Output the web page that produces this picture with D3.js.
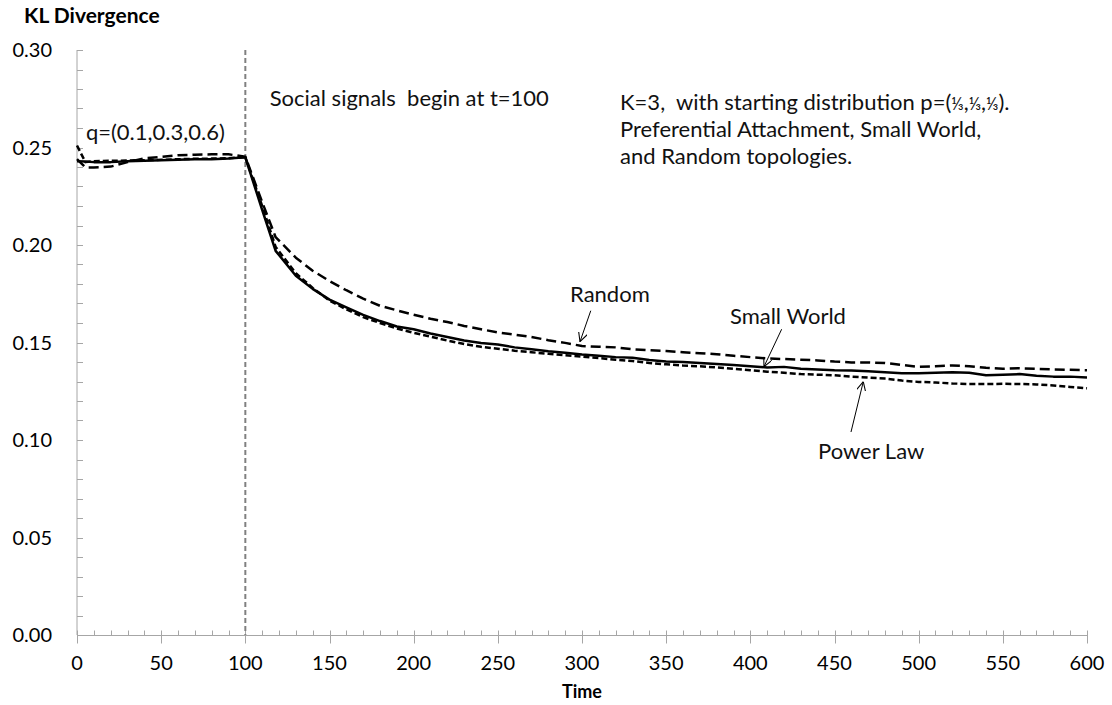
<!DOCTYPE html>
<html>
<head>
<meta charset="utf-8">
<script src="https://cdn.jsdelivr.net/npm/d3@7"></script>
<style>
  body { margin: 0; background: #fff; }
  svg { font-family: Lato, "Open Sans", sans-serif; }
  svg text { white-space: pre; }
</style>
</head>
<body>
<svg id="chart" width="1112" height="705"></svg>
<script>
// Time steps shared by all series.
const time = [0, 5, 10, 20, 30, 40, 50, 60, 70, 80, 90, 100, 110, 118,
  130, 140, 150, 160, 170, 180, 190, 200,
  210, 220, 230, 240, 250, 260, 270, 280, 290, 300,
  310, 320, 330, 340, 350, 360, 370, 380, 390, 400,
  410, 420, 430, 440, 450, 460, 470, 480, 490, 500,
  510, 520, 530, 540, 550, 560, 570, 580, 590, 600];

const smallWorld = [0.243, 0.2428, 0.2425, 0.2425, 0.243, 0.2432, 0.2435, 0.2437, 0.244, 0.244, 0.2443, 0.245, 0.218, 0.197,
  0.1842, 0.1775, 0.172, 0.168, 0.1642, 0.161, 0.1582, 0.1568,
  0.1546, 0.1528, 0.151, 0.1498, 0.149, 0.1475, 0.1465, 0.1455, 0.1448, 0.1438,
  0.1432, 0.1425, 0.1422, 0.141, 0.1402, 0.140, 0.1395, 0.139, 0.1385, 0.1378,
  0.1372, 0.1375, 0.1365, 0.1362, 0.1358, 0.1356, 0.1352, 0.1348, 0.1342, 0.1342,
  0.1345, 0.1348, 0.1345, 0.1332, 0.1335, 0.1338, 0.133, 0.1325, 0.1325, 0.1321];

const random = [0.244, 0.2398, 0.2398, 0.2402, 0.2425, 0.2445, 0.2452, 0.246, 0.2463, 0.2465, 0.2465, 0.2453, 0.222, 0.204,
  0.1935, 0.1868, 0.1815, 0.1768, 0.1725, 0.1688, 0.1665, 0.1642,
  0.1622, 0.1605, 0.1585, 0.1568, 0.1552, 0.154, 0.1528, 0.1512, 0.1498, 0.1482,
  0.1478, 0.1475, 0.1465, 0.146, 0.1456, 0.145, 0.1445, 0.144, 0.1432, 0.1425,
  0.1418, 0.1415, 0.1412, 0.1408, 0.1402, 0.1398, 0.1398, 0.1395, 0.1385, 0.1375,
  0.1378, 0.1382, 0.1378, 0.137, 0.1365, 0.1368, 0.1365, 0.1362, 0.136, 0.1358];

const powerLaw = [0.251, 0.2425, 0.243, 0.2432, 0.2433, 0.2435, 0.2437, 0.244, 0.2442, 0.2443, 0.2445, 0.245, 0.22, 0.199,
  0.1855, 0.178, 0.1715, 0.167, 0.163, 0.16, 0.1572, 0.155,
  0.153, 0.151, 0.1492, 0.1478, 0.1468, 0.1458, 0.145, 0.1442, 0.1435, 0.1428,
  0.142, 0.1412, 0.1405, 0.1395, 0.1388, 0.1382, 0.1378, 0.1372, 0.1365, 0.1358,
  0.135, 0.1345, 0.1338, 0.1335, 0.1332, 0.1325, 0.132, 0.1315, 0.1305, 0.1298,
  0.1295, 0.129, 0.1287, 0.1287, 0.1288, 0.1287, 0.1285, 0.128, 0.1272, 0.1265];

const xTicks = [0, 50, 100, 150, 200, 250, 300, 350, 400, 450, 500, 550, 600];
const yTicks = [0, 0.05, 0.10, 0.15, 0.20, 0.25, 0.30];
const signalStart = 100;

// Label text with anchor in data units, arrows as [t, v] tail -> tip.
const labels = [
  { text: 'Random', t: 292.9, v: 0.1708 },
  { text: 'Small World', t: 387.9, v: 0.1595 },
  { text: 'Power Law', t: 440.2, v: 0.0903 },
  { text: 'Social signals  begin at t=100', t: 114.5, v: 0.2712 },
  { text: 'q=(0.1,0.3,0.6)', t: 5.3, v: 0.2538 },
  { text: 'K=3,  with starting distribution p=(⅓,⅓,⅓).', t: 322.6, v: 0.2692 },
  { text: 'Preferential Attachment, Small World,', t: 322.6, v: 0.2554 },
  { text: 'and Random topologies.', t: 322.6, v: 0.2415 }
];
const arrows = [
  [[305.2, 0.1663], [298.8, 0.1504]],
  [[418.6, 0.1568], [408.1, 0.1376]],
  [[459.8, 0.1041], [467.1, 0.1299]]
];

const svg = d3.select('#chart');
const margin = { left: 77, right: 25, top: 50, bottom: 70 };
const width = 1112, height = 705;

const x = d3.scaleLinear().domain([0, 600]).range([margin.left, width - margin.right]);
const y = d3.scaleLinear().domain([0, 0.30]).range([height - margin.bottom, margin.top]);

const axisColor = '#a6a6a6';

// Axes
const yAxis = svg.append('g').attr('transform', `translate(${x(0)},0)`);
yAxis.append('line')
  .attr('y1', y(0)).attr('y2', y(0.30))
  .attr('stroke', axisColor);
yAxis.selectAll('line.minor')
  .data(d3.range(0, 31).map(d => d / 100))
  .enter()
    .append('line')
    .attr('class', 'minor')
    .attr('x1', 0).attr('x2', 6)
    .attr('y1', d => Math.round(y(d)) + 0.5).attr('y2', d => Math.round(y(d)) + 0.5)
    .attr('stroke', axisColor);
yAxis.selectAll('text')
  .data(yTicks)
  .enter()
    .append('text')
    .attr('x', -25)
    .attr('y', d => y(d))
    .attr('dy', '0.35em')
    .attr('text-anchor', 'end')
    .attr('font-size', 20)
    .text(d => d.toFixed(2));

const xAxis = svg.append('g').attr('transform', `translate(0,${Math.round(y(0)) + 0.5})`);
xAxis.append('line')
  .attr('x1', x(0)).attr('x2', x(600))
  .attr('stroke', axisColor);
xAxis.selectAll('line.minor')
  .data(d3.range(0, 61).map(d => d * 10))
  .enter()
    .append('line')
    .attr('class', 'minor')
    .attr('x1', d => Math.round(x(d)) + 0.5).attr('x2', d => Math.round(x(d)) + 0.5)
    .attr('y1', -5)
    .attr('y2', d => (d % 50 === 0 ? 8 : 0))
    .attr('stroke', axisColor);
xAxis.selectAll('text')
  .data(xTicks)
  .enter()
    .append('text')
    .attr('x', d => x(d))
    .attr('y', 34)
    .attr('text-anchor', 'middle')
    .attr('font-size', 20)
    .text(d => d);

// Axis titles
svg.append('text')
  .attr('x', 24).attr('y', 23)
  .attr('font-size', 21).attr('font-weight', 'bold')
  .text('KL Divergence');
svg.append('text')
  .attr('x', x(300)).attr('y', 698)
  .attr('text-anchor', 'middle')
  .attr('font-size', 18).attr('font-weight', 'bold')
  .text('Time');

// Signal marker
svg.append('line')
  .attr('x1', x(signalStart)).attr('x2', x(signalStart))
  .attr('y1', y(0.30)).attr('y2', y(0))
  .attr('stroke', '#808080')
  .attr('stroke-width', 2)
  .attr('stroke-dasharray', '5,3');

// Series
const series = [
  { name: 'Random', values: random, dash: '10,5' },
  { name: 'Power Law', values: powerLaw, dash: '6,3' },
  { name: 'Small World', values: smallWorld, dash: null }
];

const line = d3.line()
  .x(d => x(d[0]))
  .y(d => y(d[1]));

svg.append('g')
  .selectAll('path')
  .data(series)
  .enter()
    .append('path')
    .attr('d', s => line(time.map((t, i) => [t, s.values[i]])))
    .attr('fill', 'none')
    .attr('stroke', '#000')
    .attr('stroke-width', 2.5)
    .attr('stroke-linejoin', 'round')
    .attr('stroke-dasharray', s => s.dash);

// Annotations
svg.append('defs').append('marker')
  .attr('id', 'arrow')
  .attr('viewBox', '0 0 10 10')
  .attr('refX', 10).attr('refY', 5)
  .attr('markerWidth', 9).attr('markerHeight', 9)
  .attr('markerUnits', 'userSpaceOnUse')
  .attr('orient', 'auto')
  .append('path')
    .attr('d', 'M0,0L10,5L0,10')
    .attr('fill', 'none')
    .attr('stroke', '#000')
    .attr('stroke-width', 1.2);

svg.append('g')
  .selectAll('line')
  .data(arrows)
  .enter()
    .append('line')
    .attr('x1', d => x(d[0][0])).attr('y1', d => y(d[0][1]))
    .attr('x2', d => x(d[1][0])).attr('y2', d => y(d[1][1]))
    .attr('stroke', '#000')
    .attr('stroke-width', 1)
    .attr('marker-end', 'url(#arrow)');

// Fraction glyphs fall back to a wide font, so draw them a bit smaller.
svg.append('g')
  .selectAll('text')
  .data(labels)
  .enter()
    .append('text')
    .attr('x', d => x(d.t))
    .attr('y', d => y(d.v))
    .attr('font-size', 22)
    .attr('fill', '#111')
    .each(function (d) {
      const node = d3.select(this);
      d.text.split(/(⅓)/).filter(s => s.length).forEach(part => {
        node.append('tspan')
          .attr('font-size', part === '⅓' ? 17 : null)
          .text(part);
      });
    });
</script>
</body>
</html>
